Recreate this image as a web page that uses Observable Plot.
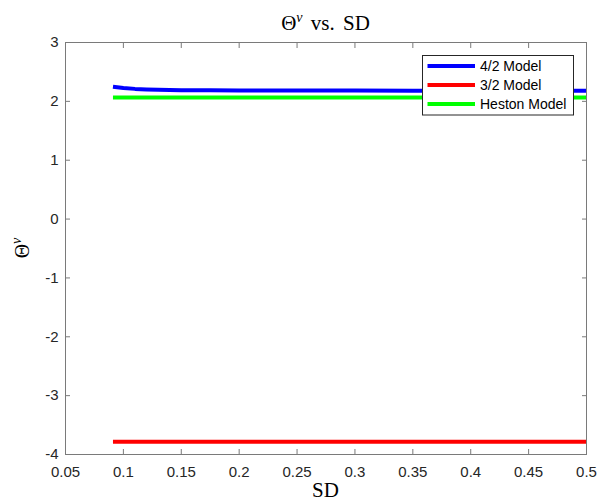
<!DOCTYPE html>
<html>
<head>
<meta charset="utf-8">
<script src="https://cdn.jsdelivr.net/npm/d3@7"></script>
<script src="https://cdn.jsdelivr.net/npm/@observablehq/plot@0.6"></script>
<style>
  html, body { margin: 0; padding: 0; background: #fff; }
  #chart { width: 600px; height: 502px; }
</style>
</head>
<body>
<div id="chart"></div>
<script>
// ---- data ----
const sd       = [0.091, 0.1, 0.11, 0.12, 0.13, 0.14, 0.15, 0.175, 0.2, 0.25, 0.3, 0.35, 0.4, 0.45, 0.5];
const model42  = [2.25, 2.228, 2.212, 2.203, 2.197, 2.193, 2.19, 2.187, 2.185, 2.184, 2.183, 2.182, 2.182, 2.181, 2.181];
const model32  = [-3.785, -3.785, -3.785, -3.785, -3.785, -3.785, -3.785, -3.785, -3.785, -3.785, -3.785, -3.785, -3.785, -3.785, -3.785];
const heston   = [2.066, 2.066, 2.066, 2.066, 2.066, 2.066, 2.066, 2.066, 2.066, 2.066, 2.066, 2.066, 2.066, 2.066, 2.066];
const seriesNames = ["4/2 Model", "3/2 Model", "Heston Model"];
const seriesColors = ["#0000ff", "#ff0000", "#00ff00"];
const xTicks = [0.05, 0.1, 0.15, 0.2, 0.25, 0.3, 0.35, 0.4, 0.45, 0.5];
const xTickLabels = ["0.05", "0.1", "0.15", "0.2", "0.25", "0.3", "0.35", "0.4", "0.45", "0.5"];
const yTicks = [-4, -3, -2, -1, 0, 1, 2, 3];
const yTickLabels = ["-4", "-3", "-2", "-1", "0", "1", "2", "3"];

const seriesValues = [model42, model32, heston];
const rows = [];
seriesNames.forEach((name, i) => sd.forEach((x, j) => rows.push({series: name, sd: x, v: seriesValues[i][j]})));

const xLab = d => xTickLabels[xTicks.indexOf(d)];
const yLab = d => yTickLabels[yTicks.indexOf(d)];
const tickColor = "#262626";
const frameColor = "#7a7a7a";

const svg = Plot.plot({
  width: 600,
  height: 502,
  marginLeft: 65,
  marginRight: 14,
  marginTop: 42,
  marginBottom: 48,
  style: {fontFamily: "'Liberation Sans', Arial, sans-serif", fontSize: "15px", color: tickColor, background: "#fff"},
  x: {domain: [0.05, 0.5]},
  y: {domain: [-4, 3]},
  color: {domain: seriesNames, range: seriesColors},
  marks: [
    Plot.line(rows, {x: "sd", y: "v", z: "series", stroke: "series", strokeWidth: 4, strokeLinecap: "butt", strokeLinejoin: "round"}),
    // inward ticks
    Plot.axisX({ticks: xTicks, anchor: "bottom", tickSize: 5, dy: -5, tickFormat: () => "", label: null, stroke: frameColor}),
    Plot.axisX({ticks: xTicks, anchor: "top", tickSize: 5, dy: 5, tickFormat: () => "", label: null, stroke: frameColor}),
    Plot.axisY({ticks: yTicks, anchor: "left", tickSize: 5, dx: 5, tickFormat: () => "", label: null, stroke: frameColor}),
    Plot.axisY({ticks: yTicks, anchor: "right", tickSize: 5, dx: -5, tickFormat: () => "", label: null, stroke: frameColor}),
    // tick labels
    Plot.axisX({ticks: xTicks, anchor: "bottom", tickSize: 0, tickPadding: 12, tickFormat: xLab, label: null, fill: tickColor, fontSize: 15}),
    Plot.axisY({ticks: yTicks, anchor: "left", tickSize: 0, tickPadding: 7, tickFormat: yLab, label: null, fill: tickColor, fontSize: 15}),
    Plot.frame({stroke: frameColor})
  ]
});

document.getElementById("chart").appendChild(svg);
const s = d3.select(svg);

// Title
const title = s.append("text")
  .attr("x", 325.5).attr("y", 30)
  .attr("text-anchor", "middle")
  .attr("font-family", "'Liberation Serif', 'Times New Roman', serif")
  .attr("font-size", 21)
  .attr("fill", "#000");
title.append("tspan").text("Θ");
title.append("tspan").attr("font-size", 14).attr("font-style", "italic").attr("dy", -8).text("v");
title.append("tspan").attr("dy", 8).attr("word-spacing", 3).text(" vs. SD");

// X label
s.append("text")
  .attr("x", 325.5).attr("y", 497)
  .attr("text-anchor", "middle")
  .attr("font-family", "'Liberation Serif', 'Times New Roman', serif")
  .attr("font-size", 21)
  .attr("fill", "#000")
  .text("SD");

// Y label
const ylab = s.append("text")
  .attr("transform", "translate(29,248) rotate(-90)")
  .attr("text-anchor", "middle")
  .attr("font-family", "'Liberation Serif', 'Times New Roman', serif")
  .attr("font-size", 20)
  .attr("fill", "#000");
ylab.append("tspan").text("Θ");
ylab.append("tspan").attr("font-size", 14).attr("font-style", "italic").attr("dy", -8).text("v");

// Legend
const lg = s.append("g");
lg.append("rect")
  .attr("x", 422.5).attr("y", 55.5).attr("width", 151).attr("height", 59.5)
  .attr("fill", "#fff").attr("stroke", "#262626").attr("stroke-width", 1);
seriesNames.forEach((name, i) => {
  const cy = 66 + i * 19;
  lg.append("line").attr("x1", 427.5).attr("x2", 475).attr("y1", cy).attr("y2", cy)
    .attr("stroke", seriesColors[i]).attr("stroke-width", 4);
  lg.append("text").attr("x", 480).attr("y", cy).attr("dy", "0.35em")
    .attr("text-anchor", "start")
    .attr("font-family", "'Liberation Sans', Arial, sans-serif").attr("font-size", 14)
    .attr("fill", "#000").text(name);
});
</script>
</body>
</html>
